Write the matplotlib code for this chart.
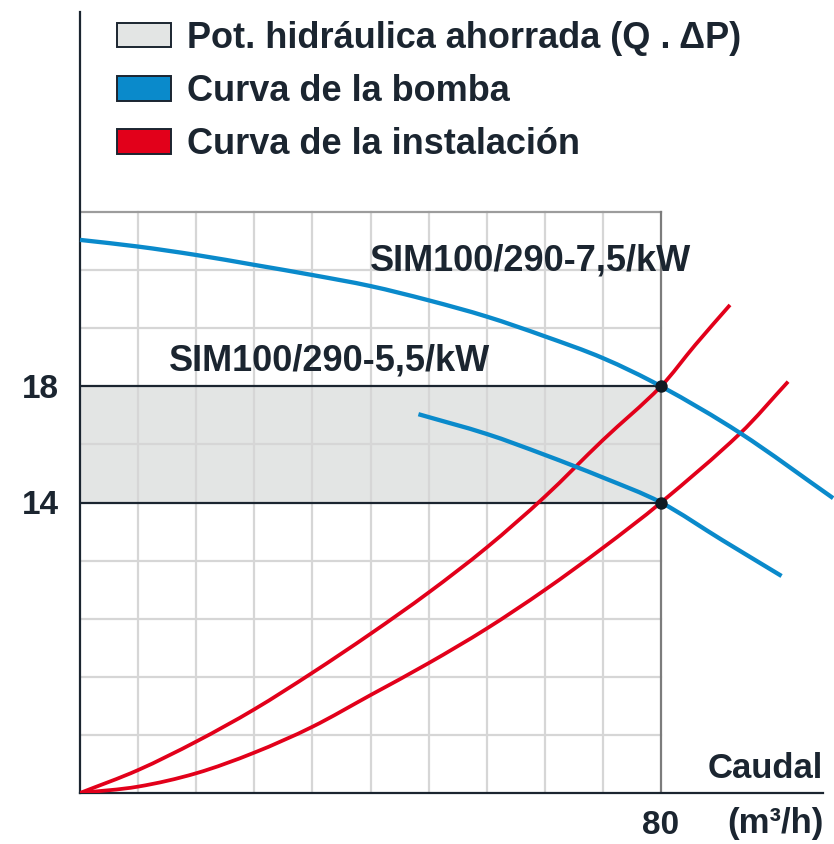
import matplotlib
matplotlib.use("Agg")
import matplotlib.pyplot as plt
from matplotlib.patches import Patch, PathPatch
from matplotlib.path import Path

plt.rcParams['font.family'] = ['Liberation Sans', 'DejaVu Sans']
plt.rcParams['font.weight'] = 'bold'

# ---- data (x: caudal m3/h, y: pressure) ----
pump75_x = [0, 8, 16, 24, 32, 40, 48, 56, 64, 72, 80, 90.9, 103.7]
pump75_y = [23.04, 22.81, 22.52, 22.18, 21.83, 21.45, 20.96, 20.40, 19.72, 18.97, 18.0, 16.39, 14.15]

pump55_x = [46.6, 56, 64, 72, 80, 88.4, 96.6]
pump55_y = [17.04, 16.36, 15.64, 14.86, 14.0, 12.71, 11.47]

inst1_x = [0, 8, 16, 24, 32, 40, 48, 56, 64, 72, 80, 84.7, 89.5]
inst1_y = [4.0, 4.79, 5.77, 6.88, 8.14, 9.48, 10.90, 12.45, 14.20, 16.15, 18.0, 19.42, 20.8]

inst2_x = [0, 8, 16, 24, 32, 40, 48, 56, 64, 72, 80, 90.9, 97.5]
inst2_y = [4.0, 4.22, 4.68, 5.39, 6.28, 7.37, 8.47, 9.66, 10.99, 12.44, 14.0, 16.38, 18.16]

op_x = [80, 80]
op_y = [18, 14]

grid_x = [8, 16, 24, 32, 40, 48, 56, 64, 72]
grid_y = [6, 8, 10, 12, 16, 20, 22]

ytick_vals = [14, 18]
xtick_vals = [80]

legend_labels = ["Pot. hidráulica ahorrada (Q . \u0394P)",
                 "Curva de la bomba",
                 "Curva de la instalación"]
curve_labels = ["SIM100/290-7,5/kW", "SIM100/290-5,5/kW"]
curve_label_pos = [(62.0, 22.0), (34.4, 18.56)]

BLUE = "#0a8acb"
RED = "#e2001a"
GREYFILL = "#e3e5e4"
GRIDC = "#d6d6d6"
INK = "#1b2530"


def smooth_path(xs, ys):
    """Cubic Hermite Bezier path through the given points (drawing only)."""
    n = len(xs)
    m = []
    for i in range(n):
        if i == 0:
            m.append((ys[1] - ys[0]) / (xs[1] - xs[0]))
        elif i == n - 1:
            m.append((ys[-1] - ys[-2]) / (xs[-1] - xs[-2]))
        else:
            m.append((ys[i + 1] - ys[i - 1]) / (xs[i + 1] - xs[i - 1]))
    verts = [(xs[0], ys[0])]
    codes = [Path.MOVETO]
    for i in range(n - 1):
        h = xs[i + 1] - xs[i]
        verts += [(xs[i] + h / 3, ys[i] + m[i] * h / 3),
                  (xs[i + 1] - h / 3, ys[i + 1] - m[i + 1] * h / 3),
                  (xs[i + 1], ys[i + 1])]
        codes += [Path.CURVE4] * 3
    return Path(verts, codes)


W, H = 834, 844
fig = plt.figure(figsize=(W / 100, H / 100), dpi=100)
ax_l, ax_b = 80 / W, (H - 793) / H
ax_w, ax_h = (823 - 80) / W, (793 - 12) / H
ax = fig.add_axes([ax_l, ax_b, ax_w, ax_h])

xmax = (823 - 80) / ((661 - 80) / 80)
ymax = 4 + (793 - 12) / ((793 - 212) / 20)
ax.set_xlim(0, xmax)
ax.set_ylim(4, ymax)

for s in ["top", "right"]:
    ax.spines[s].set_visible(False)
for s in ["left", "bottom"]:
    ax.spines[s].set_color(INK)
    ax.spines[s].set_linewidth(1.6)

# grey saved-power band
ax.fill_between([0, 80], 14, 18, color=GREYFILL, zorder=0, lw=0)

# grid
for gx in grid_x:
    ax.plot([gx, gx], [4, 24], color=GRIDC, lw=1.6, zorder=1)
for gy in grid_y:
    ax.plot([0, 80], [gy, gy], color=GRIDC, lw=1.6, zorder=1)
ax.plot([0, 80], [24, 24], color="#9c9c9c", lw=1.6, zorder=1)
ax.plot([80, 80], [4, 24], color="#7c7c7c", lw=1.6, zorder=1)
for v in ytick_vals:
    ax.plot([0, 80], [v, v], color=INK, lw=1.6, zorder=2)

# curves
for xs, ys, col, lw, z, clip in [(inst1_x, inst1_y, RED, 2.7, 3, True),
                                 (inst2_x, inst2_y, RED, 2.7, 3, True),
                                 (pump75_x, pump75_y, BLUE, 3.1, 4, False),
                                 (pump55_x, pump55_y, BLUE, 3.1, 4, True)]:
    pp = PathPatch(smooth_path(xs, ys), facecolor="none", edgecolor=col, lw=lw,
                   zorder=z, capstyle="butt", joinstyle="round")
    ax.add_patch(pp)
    pp.set_clip_on(clip)
ax.scatter(op_x, op_y, s=80, color="#111a22", zorder=5, lw=0)

# ticks
ax.set_yticks(ytick_vals)
ax.set_yticklabels([str(v) for v in ytick_vals])
ax.set_xticks(xtick_vals)
ax.set_xticklabels([str(v) for v in xtick_vals])
ax.tick_params(axis="both", length=0, labelsize=24, colors=INK)
ax.tick_params(axis="y", pad=15)
ax.tick_params(axis="x", pad=12)

# axis texts
fig.text(823 / W, 1 - 778 / H, "Caudal", ha="right", va="baseline",
         fontsize=25, fontweight="bold", color=INK)
fig.text(824 / W, 1 - 833 / H, "(m\u00b3/h)", ha="right", va="baseline", fontsize=25,
         fontweight="bold", color=INK)

# curve labels
for lab, (lx, ly) in zip(curve_labels, curve_label_pos):
    ax.text(lx, ly, lab, ha="center", va="baseline", fontsize=26,
            fontweight="bold", color=INK)

# legend
handles = [Patch(facecolor=GREYFILL, edgecolor=INK, lw=1.4),
           Patch(facecolor=BLUE, edgecolor=INK, lw=1.4),
           Patch(facecolor=RED, edgecolor=INK, lw=1.4)]
fig.legend(handles, legend_labels, loc="upper left", bbox_to_anchor=(117 / W, 1 - 21 / H),
           frameon=False, handlelength=1.5, handleheight=0.66,
           handletextpad=0.44, labelspacing=0.5, borderpad=0, borderaxespad=0,
           prop={"weight": "bold", "size": 26}, labelcolor=INK)

fig.savefig("out.png", dpi=100)
